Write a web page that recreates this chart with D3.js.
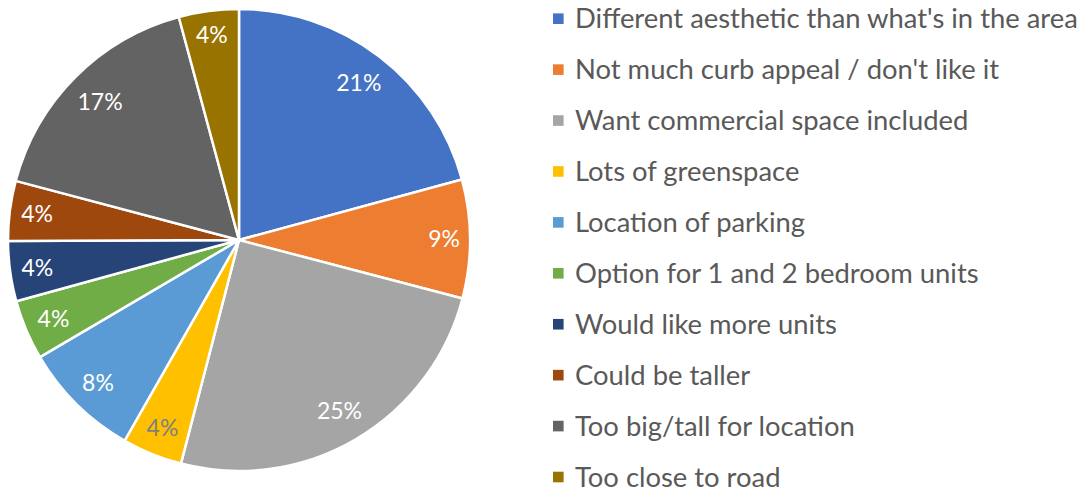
<!DOCTYPE html>
<html>
<head>
<meta charset="utf-8">
<script src="https://cdn.jsdelivr.net/npm/d3@7"></script>
<style>
    body { margin: 0; background: #fff; }
    svg { display: block; }
    text { font-family: Lato, "Open Sans", sans-serif; }
</style>
</head>
<body>
<div id="grafico"></div>
<script>
// categories in legend order (pie goes clockwise from 12 o'clock)
var categorias = [
    "Different aesthetic than what's in the area",
    "Not much curb appeal / don't like it",
    "Want commercial space included",
    "Lots of greenspace",
    "Location of parking",
    "Option for 1 and 2 bedroom units",
    "Would like more units",
    "Could be taller",
    "Too big/tall for location",
    "Too close to road"
];

// share of each slice (%)
var valores = [20.8, 8.3, 25.0, 4.2, 8.3, 4.2, 4.2, 4.2, 16.7, 4.2];

// data labels as printed on the slices
var rotulos = ["21%", "9%", "25%", "4%", "8%", "4%", "4%", "4%", "17%", "4%"];

var cores = ["#4472C4", "#ED7D31", "#A5A5A5", "#FFC000", "#5B9BD5",
             "#70AD47", "#264478", "#9E480E", "#636363", "#997300"];

var coresRotulo = ["#fff", "#fff", "#fff", "#7F7F7F", "#fff",
                   "#fff", "#fff", "#fff", "#fff", "#fff"];

var width = 1086, height = 489;
var cx = 239, cy = 240, raio = 231;
var fonteRotulo = 23;
var fonteLegenda = 27.4;

var svg = d3.select("#grafico").append("svg")
    .attr("width", width)
    .attr("height", height);

/* PIE */
var pie = d3.pie().sort(null).value(function(d) { return d; });
var arcos = pie(valores);
var arc = d3.arc().innerRadius(0).outerRadius(raio);

var g = svg.append("g").attr("transform", "translate(" + cx + "," + cy + ")");

g.selectAll("path.fatia").data(arcos).enter().append("path")
    .attr("class", "fatia")
    .attr("d", arc)
    .attr("fill", function(d, i) { return cores[i]; })
    .attr("stroke", "#fff")
    .attr("stroke-width", 2.5)
    .attr("stroke-linejoin", "round");

// labels placed "inside end": the text box sits just inside the rim
g.selectAll("text.rotulo").data(arcos).enter().append("text")
    .attr("class", "rotulo")
    .attr("text-anchor", "middle")
    .attr("dy", "0.35em")
    .style("font-size", fonteRotulo + "px")
    .attr("fill", function(d, i) { return coresRotulo[i]; })
    .text(function(d, i) { return rotulos[i]; })
    .each(function(d) {
        var w = this.getBBox().width;
        var h = fonteRotulo * 1.1;
        var a = (d.startAngle + d.endAngle) / 2;
        var ext = (w / 2) * Math.abs(Math.sin(a)) + (h / 2) * Math.abs(Math.cos(a));
        var dist = raio - 10 - ext;
        d3.select(this)
            .attr("x", dist * Math.sin(a))
            .attr("y", -dist * Math.cos(a));
    });

/* LEGEND */
var yLeg = d3.scalePoint().domain(d3.range(categorias.length)).range([18.7, 477]);

var leg = svg.append("g").selectAll("g").data(categorias).enter().append("g")
    .attr("transform", function(d, i) { return "translate(553," + yLeg(i) + ")"; });

leg.append("rect")
    .attr("x", 0)
    .attr("y", -5.3)
    .attr("width", 10.6)
    .attr("height", 10.6)
    .attr("fill", function(d, i) { return cores[i]; });

leg.append("text")
    .attr("x", 22)
    .attr("dy", "0.35em")
    .style("font-size", fonteLegenda + "px")
    .attr("fill", "#595959")
    .text(function(d) { return d; });
</script>
</body>
</html>
